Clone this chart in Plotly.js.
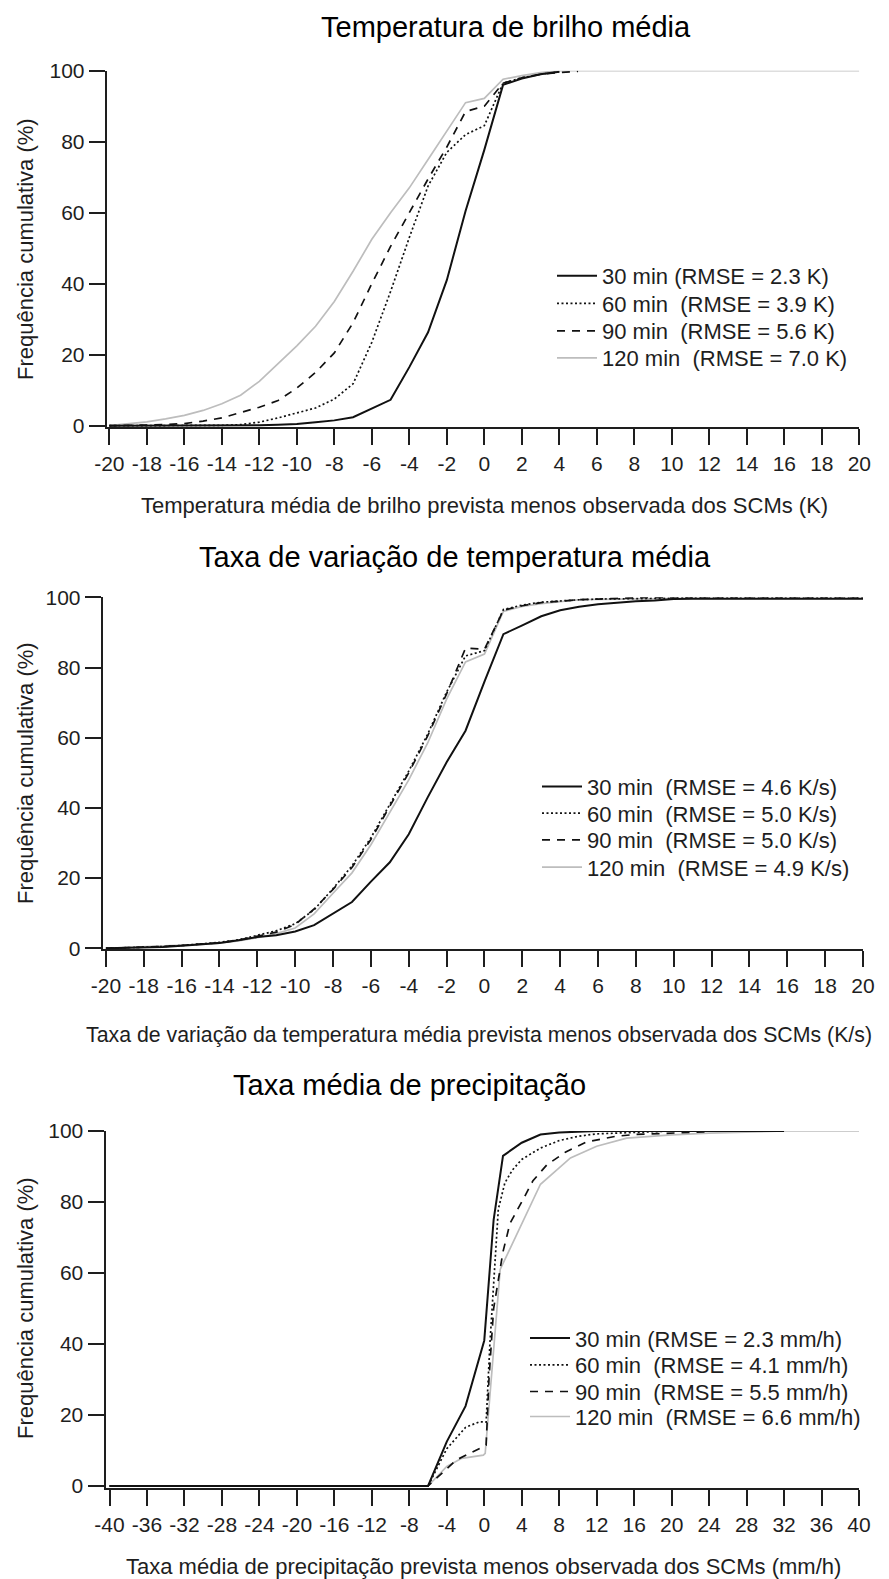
<!DOCTYPE html>
<html>
<head>
<meta charset="utf-8">
<script src="https://cdn.plot.ly/plotly-3.0.1.min.js"></script>
<style>
html,body{margin:0;padding:0;background:#ffffff;}
#chart{width:889px;height:1579px;}
</style>
</head>
<body>
<div id="chart"></div>
<script>
// ---------------- DATA ----------------
// Panel 1: Temperatura de brilho média (K)
const X1 = [-20,-19,-18,-17,-16,-15,-14,-13,-12,-11,-10,-9,-8,-7,-6,-5,-4,-3,-2,-1,0,1,2,3,4,5,6,7,8,9,10,11,12,13,14,15,16,17,18,19,20];
const T30  = [0,0,0,0,0,0,0,0,0.1,0.3,0.5,1.0,1.5,2.4,4.8,7.3,16.5,26.3,41,60.5,77.7,96,97.8,99,99.7,null,null,null,null,null,null,null,null,null,null,null,null,null,null,null,null];
const T60  = [0,0,0,0,0,0,0.1,0.3,1.0,2.2,3.6,5.0,7.5,11.8,23.5,37.8,53,67.5,77,82,84.5,96.5,98,99,99.7,null,null,null,null,null,null,null,null,null,null,null,null,null,null,null,null];
const T90  = [0,0,0.2,0.3,0.6,1.3,2.2,3.7,5.2,7.1,10.6,15,20.5,29,40,50.5,60,69.5,78.5,88.5,90,96.5,98,99,99.5,99.8,null,null,null,null,null,null,null,null,null,null,null,null,null,null,null];
const T120 = [0,0.5,1.1,1.9,2.9,4.3,6.2,8.6,12.5,17.5,22.5,28,35,43.5,52.5,60,67,75,83,91,92.2,97.6,98.6,99.5,100,100,100,100,100,100,100,100,100,100,100,100,100,100,100,100,100];

// Panel 2: Taxa de variação de temperatura média (K/s)
const X2 = [-20,-19,-18,-17,-16,-15,-14,-13,-12,-11,-10,-9,-8,-7,-6,-5,-4,-3,-2,-1,0,1,2,3,4,5,6,7,8,9,10,11,12,13,14,15,16,17,18,19,20];
const R30  = [0,0.1,0.2,0.4,0.7,1.0,1.5,2.3,3.2,3.7,4.8,6.6,10,13.2,19,24.5,32.5,43,53,62,76,89.5,92,94.6,96.3,97.3,98,98.5,98.9,99.1,99.5,99.6,99.6,99.6,99.6,99.6,99.6,99.6,99.6,99.6,99.6];
const R60  = [0,0.1,0.3,0.5,0.8,1.2,1.7,2.4,3.6,5.0,7.0,11,17,23.5,31.5,41,50.5,61,73,83.3,84.8,96.5,97.8,98.6,99.0,99.3,99.5,99.6,99.7,99.8,99.8,99.8,99.8,99.8,99.8,99.8,99.8,99.8,99.8,99.8,99.8];
const R90  = [0,0.1,0.3,0.5,0.8,1.1,1.6,2.3,3.4,4.6,6.8,11.2,16.8,23,31,40.5,50,60.5,72.5,85.5,85.2,96.3,97.6,98.5,99,99.3,99.5,99.7,100,100,99.8,99.8,99.8,99.8,99.8,99.8,99.8,99.8,99.8,99.8,99.8];
const R120 = [0,0.2,0.5,0.6,0.8,1.1,1.5,2.1,3.0,4.2,5.8,9.8,15.7,21.5,29.5,38.7,48,58.5,71,81.6,83.8,96,97.4,98.2,98.8,99.3,99.4,99.5,99.6,99.7,99.7,99.7,99.7,99.7,99.7,99.7,99.7,99.7,99.7,99.7,99.7];

// Panel 3: Taxa média de precipitação (mm/h)
const P30x  = [-40,-6,-4,-2,0,1,2,4,6,8,10,12,16,20,24,28,32];
const P30y  = [0,0,12.5,22.5,41,75,93,96.7,99,99.6,99.8,100,100,100,100,100,100];
const P60x  = [-40,-6,-4,-2,-0.5,0.2,0.6,1.1,1.5,2.2,3,4,6,8,10,12,14,16,18,20];
const P60y  = [0,0,10.5,16.5,18.1,18,40,62,78,85.4,89,92,95.2,97.3,98.5,99.2,99.5,99.6,99.8,100];
const P90x  = [-40,-6,-3,-0.5,0.2,0.5,1,2,2.75,4.1,5.2,6.7,8.7,10.9,14,16,20,24];
const P90y  = [0,0,7.3,10.6,11.5,30,50,66,74,80.5,86,90.5,94.1,96.9,98.5,99,99.5,99.8];
const P120x = [-40,-6,-4,-2.4,-0.1,0.1,1.7,6,9.2,12,15.2,20,24,28,32,40];
const P120y = [0,0,5.5,7.8,8.7,9.2,61,85,92.4,95.7,98,98.9,99.4,99.7,100,100];

// Tick values
const XT1 = [-20,-18,-16,-14,-12,-10,-8,-6,-4,-2,0,2,4,6,8,10,12,14,16,18,20];
const XT3 = [-40,-36,-32,-28,-24,-20,-16,-12,-8,-4,0,4,8,12,16,20,24,28,32,36,40];
const YT  = [0,20,40,60,80,100];

// Texts
const TITLES = ['Temperatura de brilho média','Taxa de variação de temperatura média','Taxa média de precipitação'];
const XTITLES = ['Temperatura média de brilho prevista menos observada dos SCMs (K)',
                 'Taxa de variação da temperatura média prevista menos observada dos SCMs (K/s)',
                 'Taxa média de precipitação prevista menos observada dos SCMs (mm/h)'];
const YTITLE = 'Frequência cumulativa (%)';
const NB = '\u00a0';
const NAMES1 = ['30 min (RMSE = 2.3 K)','60 min '+NB+'(RMSE = 3.9 K)','90 min '+NB+'(RMSE = 5.6 K)','120 min '+NB+'(RMSE = 7.0 K)'];
const NAMES2 = ['30 min '+NB+'(RMSE = 4.6 K/s)','60 min '+NB+'(RMSE = 5.0 K/s)','90 min '+NB+'(RMSE = 5.0 K/s)','120 min '+NB+'(RMSE = 4.9 K/s)'];
const NAMES3 = ['30 min (RMSE = 2.3 mm/h)','60 min '+NB+'(RMSE = 4.1 mm/h)','90 min '+NB+'(RMSE = 5.5 mm/h)','120 min '+NB+'(RMSE = 6.6 mm/h)'];

// ---------------- STYLE / LAYOUT ----------------
const W = 889, H = 1579;
const px = v => v / W;
const py = v => 1 - v / H;
const FONT = 'Liberation Sans, Arial, sans-serif';
const INK = '#1e1e1e';

const STY = [
  {color:'#111111', width:2.0, dash:'solid'},
  {color:'#111111', width:1.7, dash:'2px,2.5px'},
  {color:'#111111', width:1.7, dash:'8px,7px'},
  {color:'#bdbdbd', width:1.7, dash:'solid'}
];

function tr(x, y, k, names, ax, leg) {
  return {x:x, y:y, type:'scatter', mode:'lines', name:names[k], line:STY[k],
          xaxis:'x'+ax, yaxis:'y'+ax, legend:leg, showlegend:true,
          hoverinfo:'skip', connectgaps:false};
}

// legend ids: panel p (0..2), series k (0..3)
const legId = (p,k) => { const n = p*4+k+1; return n===1 ? 'legend' : 'legend'+n; };

const data = [
  // gray first so the black lines sit on top
  tr(X1, T120, 3, NAMES1, '', legId(0,3)),
  tr(X1, T90,  2, NAMES1, '', legId(0,2)),
  tr(X1, T60,  1, NAMES1, '', legId(0,1)),
  tr(X1, T30,  0, NAMES1, '', legId(0,0)),
  tr(X2, R120, 3, NAMES2, '2', legId(1,3)),
  tr(X2, R90,  2, NAMES2, '2', legId(1,2)),
  tr(X2, R60,  1, NAMES2, '2', legId(1,1)),
  tr(X2, R30,  0, NAMES2, '2', legId(1,0)),
  tr(P120x, P120y, 3, NAMES3, '3', legId(2,3)),
  tr(P90x,  P90y,  2, NAMES3, '3', legId(2,2)),
  tr(P60x,  P60y,  1, NAMES3, '3', legId(2,1)),
  tr(P30x,  P30y,  0, NAMES3, '3', legId(2,0))
];

function xax(dom, rng, ticks, anchor) {
  return {domain:dom, range:rng, tickmode:'array', tickvals:ticks, ticktext:ticks.map(String),
          showline:true, linecolor:INK, linewidth:2, ticks:'outside', ticklen:16, tickwidth:2,
          tickcolor:INK, showgrid:false, zeroline:false, anchor:anchor, fixedrange:true,
          tickfont:{family:FONT, size:21, color:INK}};
}
function yax(dom, rng, anchor) {
  return {domain:dom, range:rng, tickmode:'array', tickvals:YT, ticktext:YT.map(String),
          showline:true, linecolor:INK, linewidth:2, ticks:'outside', ticklen:16, tickwidth:2,
          tickcolor:INK, showgrid:false, zeroline:false, anchor:anchor, fixedrange:true,
          tickfont:{family:FONT, size:21, color:INK}};
}

const layout = {
  width:W, height:H,
  margin:{l:0, r:0, t:0, b:0, pad:0},
  paper_bgcolor:'#ffffff', plot_bgcolor:'#ffffff',
  font:{family:FONT, color:INK},
  xaxis:  xax([px(106.7), px(859.3)], [-20.14, 20], XT1, 'y'),
  yaxis:  yax([py(427.3), py(70.7)],  [-0.45, 100], 'x'),
  xaxis2: xax([px(102.7), px(863)],   [-20.17, 20], XT1, 'y2'),
  yaxis2: yax([py(949.3), py(597.3)], [-0.28, 100], 'x2'),
  xaxis3: xax([px(105.5), px(859)],   [-40.43, 40], XT3, 'y3'),
  yaxis3: yax([py(1488.3), py(1131)], [-0.65, 100], 'x3'),
  annotations: [],
  showlegend:true
};

// titles (positioned per panel as in the original figure)
const TPOS = [[506, 26.5], [455.5, 556.5], [409.5, 1085]];
const XTPOS = [[484.7, 505.5], [479, 1035], [483, 1566]];
const XTSIZE = [22, 21.3, 22];
const YTPOS = [[25, 249], [25, 773], [25, 1308]];
for (let p = 0; p < 3; p++) {
  layout.annotations.push({text:TITLES[p], xref:'paper', yref:'paper', x:px(TPOS[p][0]), y:py(TPOS[p][1]),
    xanchor:'center', yanchor:'middle', showarrow:false, font:{family:FONT, size:29, color:'#000'}});
  layout.annotations.push({text:XTITLES[p], xref:'paper', yref:'paper', x:px(XTPOS[p][0]), y:py(XTPOS[p][1]),
    xanchor:'center', yanchor:'middle', showarrow:false, font:{family:FONT, size:XTSIZE[p], color:INK}});
  layout.annotations.push({text:YTITLE, xref:'paper', yref:'paper', x:px(YTPOS[p][0]), y:py(YTPOS[p][1]),
    xanchor:'center', yanchor:'middle', textangle:-90, showarrow:false, font:{family:FONT, size:22, color:INK}});
}

// legends: one per entry, placed at the rows of the original
const LROWS = [[276, 303.5, 331, 358], [786.7, 813.3, 840, 867.3], [1338.3, 1365, 1391.7, 1416.7]];
const LX = [552, 537, 525];
for (let p = 0; p < 3; p++) {
  for (let k = 0; k < 4; k++) {
    layout[legId(p,k)] = {x:px(LX[p]), y:py(LROWS[p][k]), xanchor:'left', yanchor:'middle',
      bgcolor:'rgba(0,0,0,0)', borderwidth:0, itemwidth:40, font:{family:FONT, size:22, color:INK},
      itemclick:false, itemdoubleclick:false};
  }
}

Plotly.newPlot('chart', data, layout, {staticPlot:true, displayModeBar:false});
</script>
</body>
</html>
